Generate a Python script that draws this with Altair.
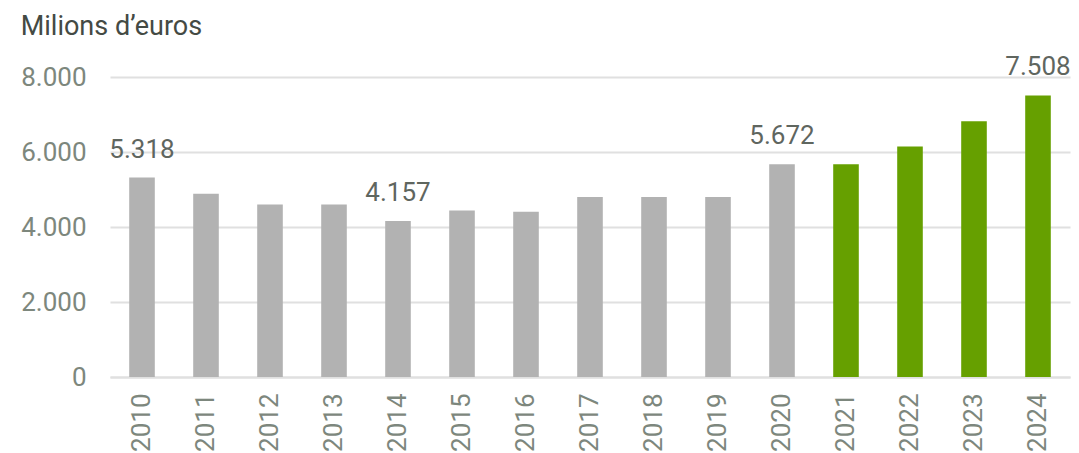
import altair as alt
import pandas as pd

years = ["2010", "2011", "2012", "2013", "2014", "2015", "2016", "2017",
         "2018", "2019", "2020", "2021", "2022", "2023", "2024"]
values = [5318, 4890, 4600, 4600, 4157, 4437, 4410, 4800,
          4800, 4800, 5672, 5675, 6150, 6820, 7508]
groups = ["past"] * 11 + ["future"] * 4
labels = ["5.318", "", "", "", "4.157", "", "", "", "", "", "5.672", "", "", "", "7.508"]

df = pd.DataFrame({"year": years, "value": values, "group": groups, "label": labels})

FONT = "Roboto"

x = alt.X("year:N", sort=years, title=None,
          scale=alt.Scale(paddingInner=0.6, paddingOuter=0.3),
          axis=alt.Axis(labelAngle=-90, labelFontSize=26, labelColor="#7d877d",
                        labelFont=FONT, ticks=False, domain=True, domainColor="#e0e0e0",
                        domainWidth=2, labelPadding=16, labelBaseline="middle", labelAlign="right"))

bars = alt.Chart(df).mark_bar().encode(
    x=x,
    y=alt.Y("value:Q", title=None,
            scale=alt.Scale(domain=[0, 8000]),
            axis=alt.Axis(values=[0, 2000, 4000, 6000, 8000], labelExpr="replace(format(datum.value, ',d'), ',', '.')",
                          labelFontSize=26, labelColor="#7d877d", labelFont=FONT,
                          ticks=False, domain=False, gridColor="#e0e0e0", gridWidth=2,
                          labelPadding=24)),
    color=alt.Color("group:N", scale=alt.Scale(domain=["past", "future"],
                                               range=["#b2b2b2", "#66a000"]), legend=None),
)

text = alt.Chart(df).mark_text(fontSize=26, font=FONT, color="#5f665f", dy=-15,
                               baseline="bottom").encode(
    x=alt.X("year:N", sort=years),
    y=alt.Y("value:Q"),
    text="label:N",
)

chart = alt.layer(bars, text).properties(
    width=960, height=300,
    padding={"left": 12, "top": 5, "right": 0, "bottom": 0},
    title=alt.TitleParams("Milions d’euros", anchor="start", frame="bounds",
                          fontSize=27, font=FONT, fontWeight="normal",
                          color="#444a44", offset=13),
).configure_view(stroke=None)

chart.save("out.html", embed_options={"renderer": "svg", "actions": False})
